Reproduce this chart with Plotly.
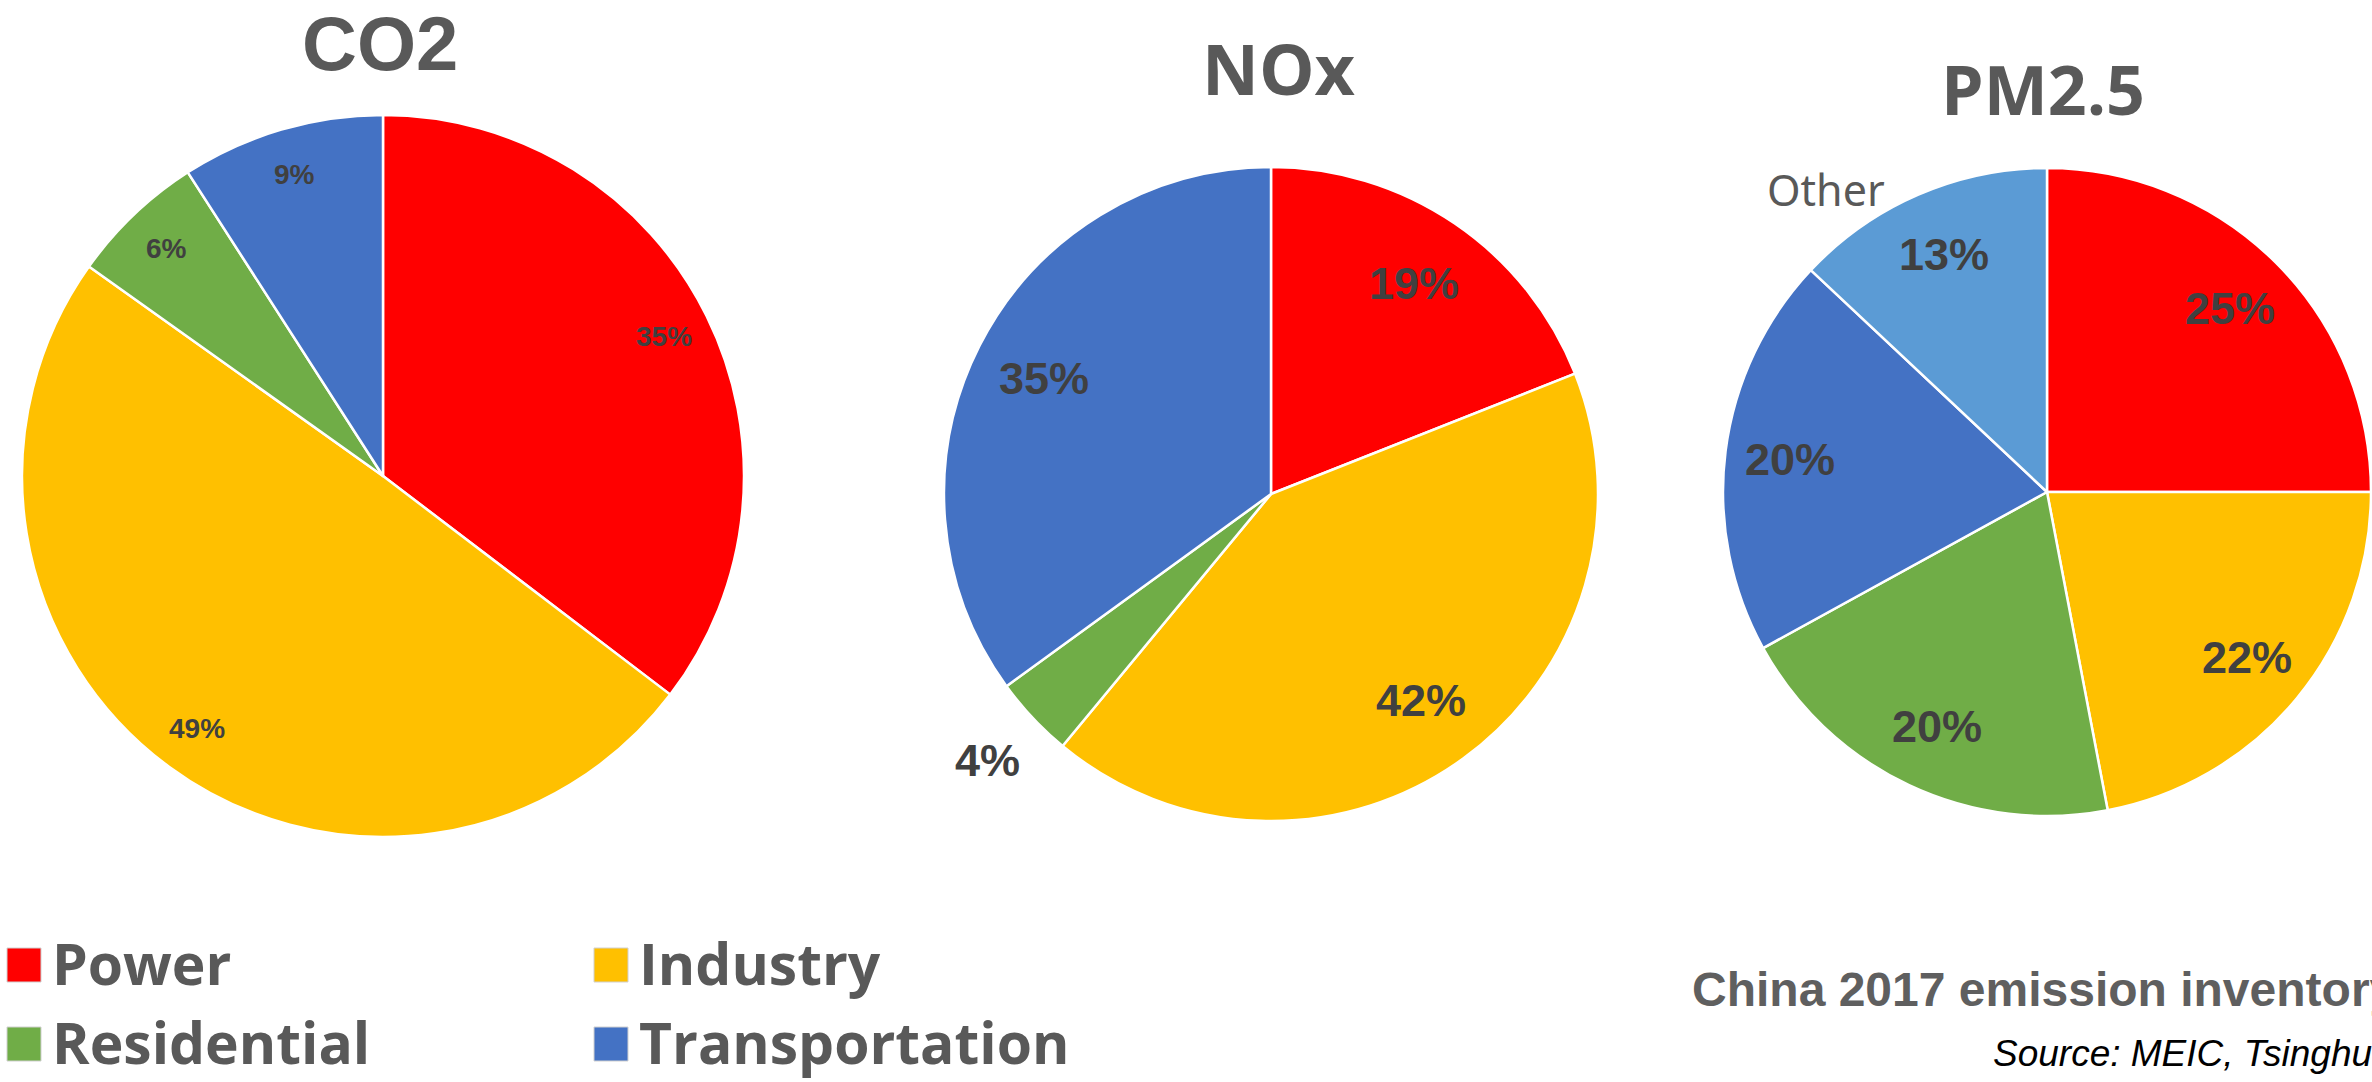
import math
import plotly.graph_objects as go

# ---- data -------------------------------------------------------------
sectors = ["Power", "Industry", "Residential", "Transportation"]
pm_sectors = ["Power", "Industry", "Residential", "Transportation", "Other"]

co2_share = [35, 49, 6, 9]
nox_share = [19, 42, 4, 35]
pm25_share = [25, 22, 20, 20, 13]

titles = ["CO2", "NOx", "PM2.5"]

colors = {
    "Power": "#FF0000",
    "Industry": "#FFC000",
    "Residential": "#70AD47",
    "Transportation": "#4472C4",
    "Other": "#5B9BD5",
}

W, H = 2372, 1082
LABEL_COLOR = "#404040"
TEXT_GREY = "#595959"

# pie layout: centre (px), radius (px), label radius factor, label font
pies = [
    dict(labels=sectors, values=co2_share, cx=383, cy=476, r=361, lf=0.87,
         font=dict(family="Liberation Sans, Arial, sans-serif", size=28, color=LABEL_COLOR, weight=700),
         outside={}),
    dict(labels=sectors, values=nox_share, cx=1271, cy=494, r=327, lf=0.78,
         font=dict(family="Liberation Sans, Arial, sans-serif", size=45, color=LABEL_COLOR, weight=700),
         outside={"Residential": 1.19}),
    dict(labels=pm_sectors, values=pm25_share, cx=2047, cy=492, r=324, lf=0.80,
         font=dict(family="Liberation Sans, Arial, sans-serif", size=45, color=LABEL_COLOR, weight=700),
         outside={}),
]


def px_to_paper(x, y):
    return x / W, 1 - y / H


fig = go.Figure()
annotations = []

for p in pies:
    x0, y1 = px_to_paper(p["cx"] - p["r"], p["cy"] - p["r"])
    x1, y0 = px_to_paper(p["cx"] + p["r"], p["cy"] + p["r"])
    fig.add_trace(go.Pie(
        labels=p["labels"],
        values=p["values"],
        sort=False,
        direction="clockwise",
        rotation=0,
        marker=dict(colors=[colors[l] for l in p["labels"]],
                    line=dict(color="white", width=2.5)),
        textinfo="none",
        hoverinfo="label+value",
        domain=dict(x=[x0, x1], y=[y0, y1]),
        showlegend=False,
    ))

    # percentage labels along each slice bisector
    total = sum(p["values"])
    cum = 0
    for lab, v in zip(p["labels"], p["values"]):
        mid = (cum + v / 2) / total * 2 * math.pi
        cum += v
        f = p["outside"].get(lab, p["lf"])
        lx = p["cx"] + f * p["r"] * math.sin(mid)
        ly = p["cy"] - f * p["r"] * math.cos(mid)
        ax, ay = px_to_paper(lx, ly)
        annotations.append(dict(
            x=ax, y=ay, xref="paper", yref="paper", text=f"{v}%",
            showarrow=False, xanchor="center", yanchor="middle",
            font=p["font"],
        ))

# chart titles
title_specs = [
    (titles[0], 380, 44, dict(family="Liberation Sans, Arial, sans-serif", size=76, color=TEXT_GREY, weight=700)),
    (titles[1], 1279, 68, dict(family="Open Sans, sans-serif", size=70, color=TEXT_GREY, weight=700)),
    (titles[2], 2043, 88, dict(family="Open Sans, sans-serif", size=68, color=TEXT_GREY, weight=700)),
]
for txt, tx, ty, fnt in title_specs:
    ax, ay = px_to_paper(tx, ty)
    annotations.append(dict(x=ax, y=ay, xref="paper", yref="paper", text=txt,
                            showarrow=False, xanchor="center", yanchor="middle", font=fnt))

# "Other" category label
ox, oy = px_to_paper(1826, 189)
annotations.append(dict(x=ox, y=oy, xref="paper", yref="paper", text="Other",
                        showarrow=False, xanchor="center", yanchor="middle",
                        font=dict(family="Noto Sans, sans-serif", size=43, color=TEXT_GREY)))

# legend: coloured keys with sector names
legend_items = [("Power", 24, 965), ("Industry", 611, 965),
                ("Residential", 24, 1044), ("Transportation", 611, 1044)]
shapes = []
half = 17
for name, kx, ky in legend_items:
    sx0, sy1 = px_to_paper(kx - half, ky - half)
    sx1, sy0 = px_to_paper(kx + half, ky + half)
    shapes.append(dict(type="rect", xref="paper", yref="paper",
                       x0=sx0, x1=sx1, y0=sy0, y1=sy1,
                       fillcolor=colors[name], line=dict(color="#D0D0D0", width=1)))
    tx, ty = px_to_paper(kx + 26, ky - 2)
    annotations.append(dict(x=tx, y=ty, xref="paper", yref="paper", text=name,
                            showarrow=False, xanchor="left", yanchor="middle",
                            font=dict(family="Open Sans, sans-serif", size=57,
                                      color=TEXT_GREY, weight=700)))

# footer captions
cx_, cy_ = px_to_paper(1690, 989)
annotations.append(dict(x=cx_, y=cy_, xref="paper", yref="paper",
                        text="China 2017 emission inventory",
                        showarrow=False, xanchor="left", yanchor="middle",
                        font=dict(family="Liberation Sans, Arial, sans-serif", size=48,
                                  color="#5F5F5F", weight=700)))
sx_, sy_ = px_to_paper(1991, 1053)
annotations.append(dict(x=sx_, y=sy_, xref="paper", yref="paper",
                        text="Source: MEIC, Tsinghua University",
                        showarrow=False, xanchor="left", yanchor="middle",
                        font=dict(family="Liberation Sans, Arial, sans-serif", size=37,
                                  color="#000000", style="italic")))

fig.update_layout(
    width=W, height=H,
    margin=dict(l=0, r=0, t=0, b=0),
    paper_bgcolor="white",
    plot_bgcolor="white",
    showlegend=False,
    annotations=annotations,
    shapes=shapes,
)

fig.write_html("out.html")
